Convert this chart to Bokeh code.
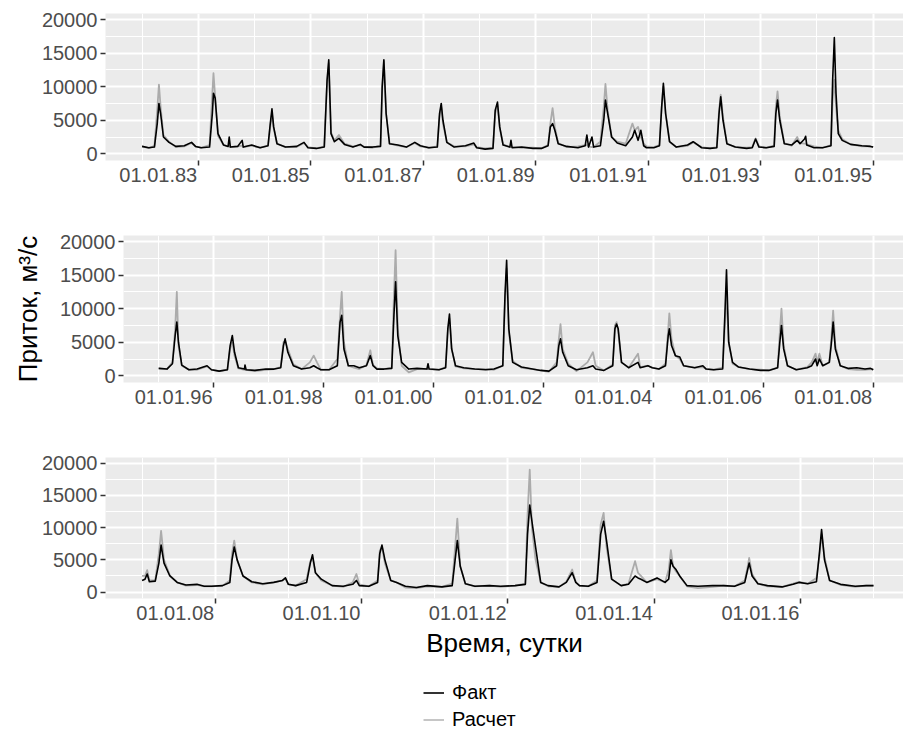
from bokeh.plotting import figure
from bokeh.models import (Range1d, LinearAxis, FixedTicker, Legend, LegendItem,
                          ColumnDataSource)
from bokeh.layouts import column, row
from bokeh.embed import file_html
from bokeh.resources import INLINE

FONT = "Liberation Sans"
BG = "#EBEBEB"
FACT_COLOR = "#000000"
CALC_COLOR = "#ABABAB"
TICK_COLOR = "#4D4D4D"

# ---------------- data (decimal years, m3/s) ----------------
# Panel 1: 1982-1995
t1 = [1982.00, 1982.12, 1982.22, 1982.27, 1982.30, 1982.33, 1982.38, 1982.48, 1982.60, 1982.75, 1982.88, 1982.95,
      1983.05, 1983.20, 1983.25, 1983.27, 1983.30, 1983.35, 1983.45, 1983.53, 1983.55, 1983.57, 1983.70, 1983.78, 1983.80, 1983.95,
      1984.10, 1984.24, 1984.28, 1984.31, 1984.34, 1984.40, 1984.55, 1984.75, 1984.88, 1984.95,
      1985.10, 1985.24, 1985.29, 1985.32, 1985.36, 1985.42, 1985.50, 1985.60, 1985.75, 1985.88, 1985.95,
      1986.10, 1986.24, 1986.27, 1986.30, 1986.34, 1986.40, 1986.55, 1986.70, 1986.85, 1986.95,
      1987.10, 1987.25, 1987.29, 1987.32, 1987.35, 1987.42, 1987.55, 1987.75, 1987.90, 1987.95,
      1988.10, 1988.24, 1988.28, 1988.32, 1988.36, 1988.42, 1988.54, 1988.56, 1988.58, 1988.75, 1988.95,
      1989.10, 1989.22, 1989.26, 1989.30, 1989.34, 1989.40, 1989.55, 1989.75, 1989.88, 1989.91, 1989.94, 1990.00, 1990.03,
      1990.15, 1990.21, 1990.24, 1990.28, 1990.35, 1990.45, 1990.60, 1990.72, 1990.76, 1990.82, 1990.87, 1990.92, 1990.97,
      1991.10, 1991.20, 1991.24, 1991.27, 1991.31, 1991.38, 1991.50, 1991.70, 1991.80, 1991.95,
      1992.10, 1992.22, 1992.26, 1992.29, 1992.33, 1992.40, 1992.55, 1992.75, 1992.85, 1992.91, 1992.97,
      1993.10, 1993.24, 1993.27, 1993.30, 1993.34, 1993.42, 1993.55, 1993.65, 1993.70, 1993.78, 1993.80, 1993.82, 1993.95,
      1994.10, 1994.25, 1994.28, 1994.31, 1994.34, 1994.38, 1994.45, 1994.60, 1994.80, 1994.95, 1995.00]
fact1 = [1100, 900, 1000, 4500, 7500, 6000, 2500, 1700, 1100, 1200, 1700, 1100,
         900, 1000, 6000, 9000, 8300, 3000, 1300, 1100, 2500, 1000, 1100, 2000, 1000, 1300,
         900, 1200, 4500, 6700, 4000, 1500, 1000, 1100, 1700, 900,
         800, 1000, 11000, 14000, 3000, 1800, 2300, 1400, 1000, 1400, 1000,
         1000, 1100, 10000, 14000, 6000, 1500, 1300, 1000, 1700, 1200,
         900, 1000, 6000, 7500, 5000, 1700, 1000, 1200, 1600, 900,
         700, 800, 6500, 7700, 4000, 1300, 1000, 2000, 900, 1000, 800,
         800, 1200, 4000, 4500, 3500, 1500, 1100, 900, 1200, 2800, 1000, 2500, 1000,
         1200, 5000, 8000, 6000, 2500, 1600, 1200, 2500, 3500, 2000, 3500, 1200, 900,
         900, 1200, 7000, 10500, 6000, 1800, 1000, 1300, 1800, 900,
         800, 900, 6000, 8500, 5000, 1500, 1000, 800, 900, 2200, 1000,
         900, 1100, 6000, 8000, 5000, 1500, 1300, 2000, 1500, 2200, 2600, 1300, 900,
         900, 1200, 11000, 17300, 9000, 3000, 2000, 1400, 1200, 1100, 1000]
calc1 = [1100, 850, 1200, 6500, 10300, 7000, 2800, 1800, 1000, 1100, 1600, 1100,
         900, 1300, 9000, 12000, 8500, 2700, 1300, 1100, 1200, 1000, 1100, 1200, 1000, 1200,
         900, 1200, 4000, 6000, 3800, 1500, 1000, 1000, 1600, 1000,
         800, 1100, 10500, 13500, 3200, 2000, 2800, 1500, 1100, 1300, 1000,
         900, 1200, 9500, 13800, 6000, 1500, 1200, 1000, 1600, 1100,
         900, 1100, 5500, 7000, 4500, 1700, 1100, 1100, 1400, 1000,
         800, 900, 6000, 7300, 3800, 1400, 1000, 1000, 1000, 900, 900,
         800, 1300, 4500, 6800, 4000, 1600, 1000, 1100, 1300, 1300, 1100, 1000, 1000,
         1800, 7000, 10400, 6500, 2500, 1800, 1500, 4500, 3500, 4000, 2500, 1500, 1100,
         1000, 1300, 7000, 10000, 6000, 1800, 1000, 1200, 1700, 1000,
         800, 1000, 6500, 8800, 5500, 1500, 1000, 900, 1000, 2300, 1100,
         900, 1200, 7000, 9300, 5500, 1600, 1200, 2500, 1600, 1500, 1500, 1400, 1100,
         900, 1300, 8000, 11000, 7000, 3500, 2200, 1400, 1100, 1100, 1000]

# Panel 2: 1995-2008
t2 = [1995.00, 1995.15, 1995.25, 1995.30, 1995.33, 1995.36, 1995.42, 1995.55, 1995.70, 1995.88, 1995.96,
      1996.10, 1996.25, 1996.30, 1996.34, 1996.38, 1996.45, 1996.56, 1996.57, 1996.59, 1996.75, 1996.95,
      1997.10, 1997.22, 1997.27, 1997.30, 1997.35, 1997.45, 1997.60, 1997.75, 1997.82, 1997.88, 1997.95,
      1998.10, 1998.25, 1998.30, 1998.33, 1998.37, 1998.45, 1998.55, 1998.65, 1998.78, 1998.85, 1998.90, 1998.97,
      1999.10, 1999.24, 1999.28, 1999.31, 1999.35, 1999.42, 1999.55, 1999.70, 1999.88, 1999.90, 1999.92,
      2000.10, 2000.22, 2000.26, 2000.29, 2000.33, 2000.40, 2000.55, 2000.75, 2000.95,
      2001.10, 2001.26, 2001.30, 2001.33, 2001.37, 2001.44, 2001.60, 2001.80, 2001.95,
      2002.10, 2002.24, 2002.28, 2002.31, 2002.35, 2002.45, 2002.60, 2002.80, 2002.90, 2002.95,
      2003.10, 2003.26, 2003.30, 2003.33, 2003.36, 2003.42, 2003.55, 2003.72, 2003.76, 2003.90, 2003.98,
      2004.10, 2004.22, 2004.27, 2004.29, 2004.33, 2004.40, 2004.48, 2004.55, 2004.75, 2004.90, 2004.96,
      2005.10, 2005.26, 2005.30, 2005.33, 2005.37, 2005.44, 2005.55, 2005.75, 2005.95,
      2006.10, 2006.26, 2006.30, 2006.33, 2006.37, 2006.44, 2006.60, 2006.80, 2006.88, 2006.95, 2006.98,
      2007.02, 2007.08, 2007.20, 2007.24, 2007.27, 2007.31, 2007.40, 2007.55, 2007.70, 2007.85, 2007.95, 2008.00]
fact2 = [1100, 1000, 1800, 6000, 8000, 5000, 1600, 900, 1000, 1500, 900,
         700, 900, 4500, 6000, 3500, 1200, 1000, 1600, 900, 800, 1000,
         1000, 1200, 4500, 5500, 3500, 1500, 1000, 1200, 1500, 1200, 900,
         900, 1500, 8000, 9000, 4000, 1500, 1500, 1200, 1500, 3000, 1500, 1000,
         1000, 1100, 9000, 14000, 6000, 2000, 1000, 1100, 1000, 1800, 1000,
         900, 1200, 7000, 9200, 4000, 1500, 1200, 1000, 900,
         1000, 1500, 12000, 17200, 7000, 2000, 1300, 1000, 800,
         700, 1500, 4500, 5500, 3500, 1500, 900, 1200, 1500, 1000,
         800, 1500, 7000, 7700, 7000, 2000, 1200, 2000, 1200, 1500, 1200,
         1000, 1500, 6000, 7000, 4500, 3000, 2800, 1500, 1200, 1500, 1000,
         900, 1000, 9000, 15800, 5000, 2000, 1300, 1000, 800,
         800, 1200, 5000, 7500, 4000, 1500, 900, 1200, 1500, 2500, 1500,
         2500, 1500, 2000, 5000, 8000, 4000, 1500, 1100, 1200, 1000, 1100, 900]
calc2 = [1100, 1000, 2000, 7000, 12500, 4500, 1500, 900, 900, 1400, 900,
         700, 900, 4000, 5000, 3000, 1100, 900, 900, 900, 700, 900,
         1000, 1300, 5000, 5200, 4000, 1700, 1000, 2000, 3000, 2000, 900,
         900, 2500, 9000, 12500, 5000, 1500, 1200, 1000, 1600, 3800, 1600, 1100,
         1000, 1200, 12000, 18700, 7000, 1500, 500, 1000, 1000, 1000, 1000,
         900, 1300, 6500, 8500, 4000, 1400, 1100, 1000, 1000,
         900, 1500, 11000, 16000, 6500, 2200, 1200, 1000, 800,
         600, 2000, 5500, 7700, 4000, 1800, 700, 2000, 3500, 1500,
         800, 1700, 7500, 8000, 6500, 2000, 1200, 3300, 1300, 1500, 1200,
         1000, 1800, 7000, 9300, 5500, 3000, 2500, 1500, 1200, 1300, 1000,
         900, 1200, 7500, 12000, 5000, 1800, 1300, 1000, 900,
         800, 1200, 6500, 10000, 4500, 1500, 900, 1300, 2000, 3300, 2000,
         3300, 1500, 2000, 6000, 9700, 4500, 1500, 1000, 900, 900, 1000, 900]

# Panel 3: 2007-2017
t3 = [2007.00, 2007.04, 2007.07, 2007.10, 2007.18, 2007.23, 2007.26, 2007.30, 2007.38, 2007.48, 2007.60, 2007.75, 2007.85, 2007.95,
      2008.10, 2008.20, 2008.23, 2008.26, 2008.30, 2008.38, 2008.50, 2008.65, 2008.80, 2008.92, 2008.96, 2009.00,
      2009.10, 2009.25, 2009.30, 2009.33, 2009.37, 2009.45, 2009.60, 2009.75, 2009.88, 2009.93, 2009.97,
      2010.10, 2010.22, 2010.25, 2010.28, 2010.32, 2010.40, 2010.48, 2010.60, 2010.75, 2010.90,
      2011.10, 2011.24, 2011.28, 2011.31, 2011.35, 2011.42, 2011.55, 2011.75, 2011.90,
      2012.10, 2012.24, 2012.27, 2012.30, 2012.33, 2012.38, 2012.45, 2012.55, 2012.70, 2012.80, 2012.88, 2012.93, 2012.98,
      2013.10, 2013.22, 2013.27, 2013.31, 2013.35, 2013.42, 2013.55, 2013.65, 2013.74, 2013.78, 2013.82, 2013.90, 2014.04,
      2014.15, 2014.20, 2014.23, 2014.26, 2014.30, 2014.35, 2014.45, 2014.60, 2014.80, 2014.95,
      2015.10, 2015.24, 2015.28, 2015.30, 2015.34, 2015.42, 2015.55, 2015.75, 2015.90, 2015.98,
      2016.10, 2016.22, 2016.26, 2016.29, 2016.33, 2016.40, 2016.55, 2016.75, 2016.90, 2017.00]
fact3 = [1800, 2000, 2800, 1600, 1700, 4500, 7300, 4500, 2500, 1500, 1100, 1200, 900, 900,
         1000, 1500, 5000, 7000, 5000, 2500, 1600, 1300, 1500, 1800, 2200, 1200,
         1000, 1500, 4500, 5800, 3000, 2000, 1000, 900, 1200, 1800, 1000,
         900, 1500, 6000, 7300, 5000, 1800, 1500, 900, 700, 1000,
         800, 1000, 5000, 8000, 4000, 1300, 900, 1000, 900,
         1000, 1200, 9000, 13500, 11000, 7000, 1500, 1000, 800, 1500, 3000, 1500, 1000,
         900, 1500, 9000, 11000, 8000, 2000, 1000, 1200, 2500, 2200, 2000, 1500, 2200,
         1500, 2000, 5000, 4000, 3500, 2500, 1000, 900, 1000, 1000,
         900, 1500, 3500, 4500, 2500, 1300, 1000, 800, 1200, 1500,
         1300, 1600, 6000, 9700, 5000, 1800, 1200, 900, 1000, 1000]
calc3 = [2500, 2500, 3400, 1800, 1800, 6000, 9500, 5000, 2600, 1500, 1000, 1100, 900, 900,
         1000, 1800, 6000, 8000, 5000, 2500, 1500, 1200, 1500, 1800, 2100, 1200,
         1000, 2000, 4800, 5300, 3000, 1800, 1000, 800, 1500, 2800, 1200,
         900, 1800, 6500, 7000, 4500, 1800, 1500, 700, 600, 900,
         800, 1300, 7000, 11400, 4000, 1300, 900, 1000, 800,
         1000, 1300, 12000, 19000, 10000, 5000, 1500, 900, 800, 1600, 3500, 1500, 1000,
         900, 1800, 10500, 12300, 7000, 2000, 1000, 1300, 4800, 3000, 2500, 1500, 2000,
         1500, 3500, 6500, 4000, 3200, 2500, 900, 600, 800, 1000,
         900, 1800, 4000, 5300, 2800, 1300, 900, 800, 1300, 1600,
         1300, 2200, 5500, 9000, 5500, 1800, 1100, 800, 1000, 1000]

# ticks
ticks1 = [1983, 1985, 1987, 1989, 1991, 1993, 1995]
labels1 = ["01.01.83", "01.01.85", "01.01.87", "01.01.89", "01.01.91", "01.01.93", "01.01.95"]
minor1 = [1982, 1984, 1986, 1988, 1990, 1992, 1994]
ticks2 = [1996, 1998, 2000, 2002, 2004, 2006, 2008]
labels2 = ["01.01.96", "01.01.98", "01.01.00", "01.01.02", "01.01.04", "01.01.06", "01.01.08"]
minor2 = [1995, 1997, 1999, 2001, 2003, 2005, 2007]
ticks3 = [2008, 2010, 2012, 2014, 2016]
labels3 = ["01.01.08", "01.01.10", "01.01.12", "01.01.14", "01.01.16"]
minor3 = [2007, 2009, 2011, 2013, 2015, 2017]
y_ticks = [0, 5000, 10000, 15000, 20000]
y_minor = [2500, 7500, 12500, 17500]

series_names = ["Факт", "Расчет"]
y_title = "Приток, м³/с"
x_title = "Время, сутки"

Y_LIM = (-1000, 20900)
FIG_W = 903
LABEL_SHIFT_PX = 40  # tick labels are right-aligned at their tick


def make_panel(t, fact, calc, x_lim, ticks, labels, minor, height,
               b_left, b_top, b_bottom):
    p = figure(width=FIG_W, height=height,
               x_range=Range1d(*x_lim), y_range=Range1d(*Y_LIM),
               output_backend="svg", toolbar_location=None,
               min_border_left=b_left, min_border_right=0,
               min_border_top=b_top, min_border_bottom=b_bottom,
               background_fill_color=BG, border_fill_color="white",
               outline_line_color=None)
    src = ColumnDataSource(dict(t=t, fact=fact, calc=calc))
    p.line("t", "calc", source=src, line_color=CALC_COLOR, line_width=1.8,
           line_join="round")
    p.line("t", "fact", source=src, line_color=FACT_COLOR, line_width=1.6,
           line_join="round")

    # x axis: tick marks only
    xa = p.xaxis[0]
    xa.ticker = FixedTicker(ticks=ticks, minor_ticks=minor)
    xa.major_label_overrides = {k: "" for k in ticks}
    xa.major_label_text_font_size = "1px"
    xa.major_label_standoff = 0
    xa.major_tick_out = 5
    xa.major_tick_in = 0
    xa.minor_tick_out = 0
    xa.minor_tick_in = 0
    xa.axis_line_color = None
    xa.major_tick_line_color = "#333333"
    xa.major_tick_line_width = 1.5

    # label axis, shifted so each label ends at its tick
    frame_w = FIG_W - b_left
    shift = LABEL_SHIFT_PX * (x_lim[1] - x_lim[0]) / frame_w
    p.extra_x_ranges = {"lab": Range1d(x_lim[0] + shift, x_lim[1] + shift)}
    la = LinearAxis(x_range_name="lab", ticker=FixedTicker(ticks=ticks),
                    major_label_overrides=dict(zip(ticks, labels)),
                    major_tick_out=0, major_tick_in=0,
                    minor_tick_out=0, minor_tick_in=0,
                    axis_line_color=None, major_tick_line_color=None,
                    minor_tick_line_color=None,
                    major_label_standoff=2,
                    major_label_text_font=FONT,
                    major_label_text_font_size="20px",
                    major_label_text_color=TICK_COLOR)
    p.add_layout(la, "below")

    ya = p.yaxis[0]
    ya.ticker = FixedTicker(ticks=y_ticks, minor_ticks=y_minor)
    ya.major_tick_out = 5
    ya.major_tick_in = 0
    ya.minor_tick_out = 0
    ya.minor_tick_in = 0
    ya.axis_line_color = None
    ya.major_tick_line_color = "#333333"
    ya.major_tick_line_width = 1.5
    ya.major_label_standoff = 3
    ya.major_label_text_font = FONT
    ya.major_label_text_font_size = "20px"
    ya.major_label_text_color = TICK_COLOR

    for g in (p.xgrid[0], p.ygrid[0]):
        g.grid_line_color = "white"
        g.grid_line_width = 2
        g.minor_grid_line_color = "white"
        g.minor_grid_line_width = 1

    return p, la, ya


p1, _, _ = make_panel(t1, fact1, calc1, (1981.35, 1995.54), ticks1, labels1, minor1,
                      225, 105, 13, 65)
p2, _, ya2 = make_panel(t2, fact2, calc2, (1994.36, 2008.55), ticks2, labels2, minor2,
                        220, 123, 10, 63)
ya2.axis_label = y_title
ya2.axis_label_text_font = FONT
ya2.axis_label_text_font_size = "26px"
ya2.axis_label_text_font_style = "normal"
ya2.axis_label_text_color = "black"
ya2.axis_label_standoff = 14

p3, la3, _ = make_panel(t3, fact3, calc3, (2006.50, 2017.41), ticks3, labels3, minor3,
                        222, 105, 12, 69)
la3.axis_label = x_title
la3.axis_label_text_font = FONT
la3.axis_label_text_font_size = "26px"
la3.axis_label_text_font_style = "normal"
la3.axis_label_text_color = "black"
la3.axis_label_standoff = 5

# legend strip below the last panel (key samples only; no data point is drawn)
p4 = figure(width=FIG_W, height=66, x_range=Range1d(0, 1), y_range=Range1d(0, 1),
            output_backend="svg", toolbar_location=None,
            x_axis_location=None, y_axis_location=None,
            min_border_left=0, min_border_right=0, min_border_top=0, min_border_bottom=0,
            background_fill_color="white", border_fill_color="white",
            outline_line_color=None)
p4.grid.visible = False
key_src = ColumnDataSource(dict(t=[float("nan")], v=[float("nan")]))
k_fact = p4.line("t", "v", source=key_src, line_color=FACT_COLOR, line_width=1.6)
k_calc = p4.line("t", "v", source=key_src, line_color="#B8B8B8", line_width=1.6)
legend = Legend(items=[LegendItem(label=series_names[0], renderers=[k_fact]),
                       LegendItem(label=series_names[1], renderers=[k_calc])],
                location=(423, 0), orientation="vertical",
                label_text_font=FONT, label_text_font_size="20px",
                label_text_color="black",
                glyph_width=21, glyph_height=27, label_height=27,
                spacing=0, padding=2, margin=0, label_standoff=8,
                border_line_color=None, background_fill_alpha=0)
p4.add_layout(legend, "center")

layout = column(row(p1), row(p2), row(p3), row(p4), spacing=0)
open("out.html", "w").write(file_html(layout, INLINE))
